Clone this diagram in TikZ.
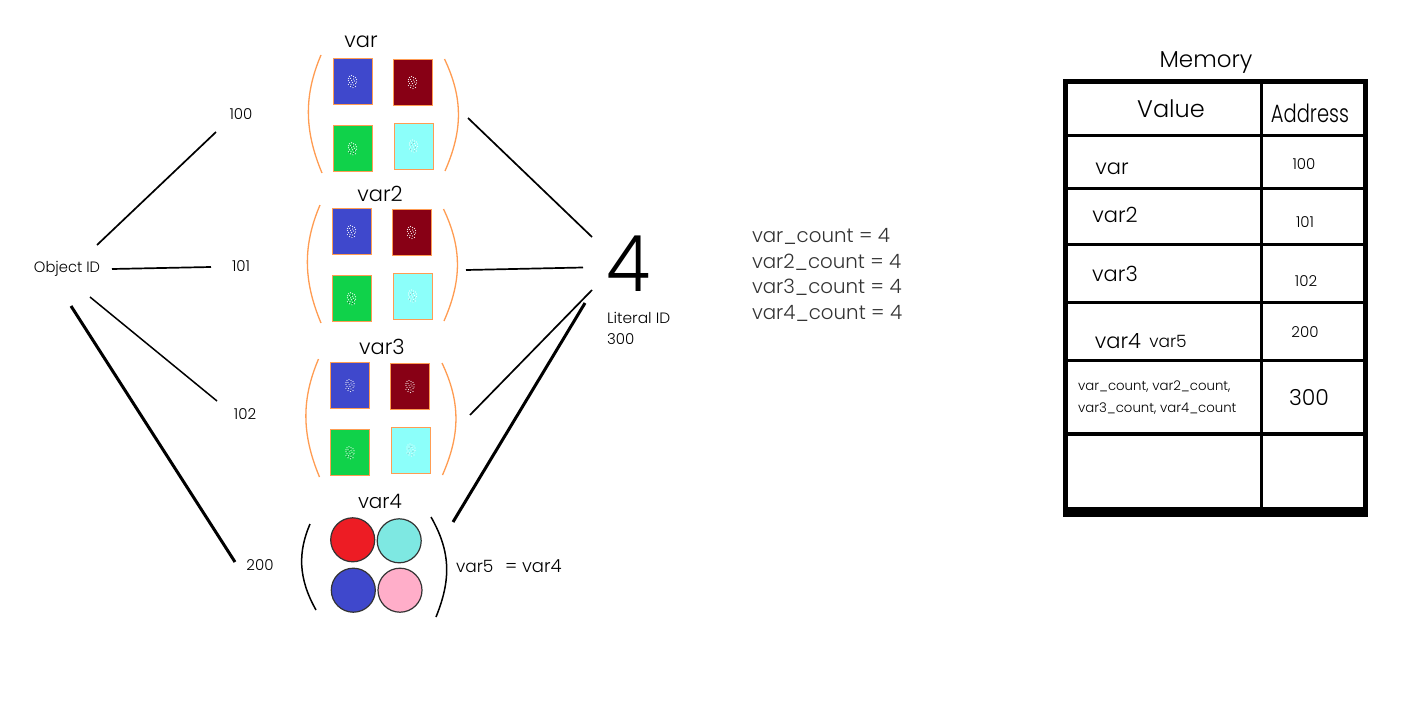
\documentclass[tikz,border=0pt]{standalone}
\usepackage{fontspec}
\usepackage{graphicx}
\setmainfont{Poppins}[UprightFont=* Light]
\definecolor{oline}{HTML}{FF9C52}
\definecolor{cblue}{HTML}{3F48CC}
\definecolor{cred}{HTML}{880015}
\definecolor{cgreen}{HTML}{10D24A}
\definecolor{ccyan}{HTML}{8CFFFA}
\definecolor{tred}{HTML}{ED1C24}
\definecolor{tteal}{HTML}{7EE8E2}
\definecolor{tpink}{HTML}{FFAEC9}
\definecolor{soft}{HTML}{333333}
\tikzset{
  x=1pt,y=-1pt,
  lbl/.style={inner sep=0pt,outer sep=0pt,text=black},
  leftlbl/.style={lbl,anchor=west},
  sqbox/.style={draw=oline,line width=1pt,minimum width=39pt,minimum height=46pt,inner sep=0pt},
  brk/.style={draw=oline,line width=1.3pt},
  blk/.style={draw=black,line width=1.5pt},
  conn/.style={draw=black,line width=1.7pt},
  connb/.style={draw=black,line width=3pt},
  disc/.style={circle,draw=soft,line width=1.2pt,minimum size=44pt,inner sep=0pt},
  tline/.style={draw=black,line width=3pt},
}
\newcommand{\fsz}[1]{\fontsize{#1}{#1}\selectfont}
\newcommand{\speck}[2]{%
  \foreach \u/\v in {-3/-5,-1/-6,1/-5,3/-4,-4/-3,-2/-3,1/-2.5,4/-2,-4/-1,-1/-1,2/-0.5,4/0.5,-3/1,0/1,3/2,-4/3,-1.5/3,1/3.5,-2/5,0.5/6,3/5}
    \fill[white,opacity=.9] ($(#1)+(\u,\v)$) circle (0.62pt);
  \foreach \u/\v in {-2/-1.5,2/1.5,-3/3.5,0/-3.5,1/5}
    \fill[#2] ($(#1)+(\u,\v)$) circle (0.6pt);
}
\newcommand{\vgroup}[3]{%
  \begin{scope}[shift={(#2,#3)}]
    \node[sqbox,fill=cblue]  (#1a) at (352.5,81.5) {};
    \node[sqbox,fill=cred]   (#1b) at (412.5,82.5) {};
    \node[sqbox,fill=cgreen] (#1c) at (352.5,148.8) {};
    \node[sqbox,fill=ccyan]  (#1d) at (413.5,146) {};
    \speck{#1a}{cblue!60!black}\speck{#1b}{cred!70!black}\speck{#1c}{cgreen!50!black}\speck{#1d}{ccyan!60!gray}
    \draw[brk] (321,55) .. controls (304,95) and (304,130) .. (322,173);
    \draw[brk] (444.5,59) .. controls (463,98) and (463,130) .. (445,171);
  \end{scope}}
\usetikzlibrary{calc}
\begin{document}
\begin{tikzpicture}
\useasboundingbox (0,0) rectangle (1416,712);
\fill[white] (0,0) rectangle (1416,712);

% variable groups
\node[lbl,font=\fsz{21}] (varT)  at (361,42) {var};
\node[lbl,font=\fsz{21}] (var2T) at (380,194) {var2};
\node[lbl,font=\fsz{21}] (var3T) at (382,347) {var3};
\node[lbl,font=\fsz{20}] (var4T) at (380,501) {var4};
\vgroup{p}{0}{0}
\vgroup{q}{-1}{150}
\vgroup{r}{-2.5}{304}

% var4 group
\node[disc,fill=tred]  (c1) at (352.7,539.8) {};
\node[disc,fill=tteal] (c2) at (399.2,540.8) {};
\node[disc,fill=cblue] (c3) at (353.3,590.2) {};
\node[disc,fill=tpink] (c4) at (400,590.2) {};
\draw[blk] (310,524) .. controls (298,552) and (298,578) .. (316,610);
\draw[blk] (431,517) .. controls (451,552) and (451,580) .. (436,617);
\node[leftlbl,font=\fsz{17}] (v5) at (456,566) {var5};
\node[leftlbl,font=\fsz{18}] (v5eq) at (505,566) {= var4};

% left labels
\node[lbl,font=\fsz{15}] (obj) at (67,268.5) {\scalebox{.98}[1]{Object ID}};
\node[lbl,font=\fsz{15}] (a100) at (241,114) {100};
\node[lbl,font=\fsz{15}] (a101) at (241,266) {101};
\node[lbl,font=\fsz{15}] (a102) at (245,414) {102};
\node[lbl,font=\fsz{15}] (a200) at (260,565.5) {200};

\coordinate (o1) at (97,245);   \coordinate (t1) at (216,132);
\coordinate (o2) at (112,269);  \coordinate (t2) at (211,267);
\coordinate (o3) at (90,297);   \coordinate (t3) at (217,401);
\coordinate (o4) at (71,306);   \coordinate (t4) at (235,562);
\draw[conn] (o1) -- (t1);
\draw[conn] (o2) -- (t2);
\draw[conn,line width=1.5pt] (o3) -- (t3);
\draw[connb] (o4) -- (t4);

% literal
\node[lbl,font=\fsz{78}] (four) at (628,264) {\scalebox{.92}[1]{4}};
\node[leftlbl,font=\fsz{15}] (lit) at (607,318) {\scalebox{1.03}[1]{Literal ID}};
\node[leftlbl,font=\fsz{15}] (lit3) at (607,339) {300};
\coordinate (g1) at (468,118);  \coordinate (f1) at (592,237);
\coordinate (g2) at (466,270);  \coordinate (f2) at (583,267.5);
\coordinate (g3) at (470,415);  \coordinate (f3) at (592,290);
\coordinate (g4) at (453,522);  \coordinate (f4) at (585,303);
\draw[conn] (g1) -- (f1);
\draw[conn] (g2) -- (f2);
\draw[conn] (g3) -- (f3);
\draw[connb] (g4) -- (f4);

% counts
\node[leftlbl,text=soft,font=\fsz{19.8}] (k1) at (752,236) {var\_count = 4};
\node[leftlbl,text=soft,font=\fsz{19.8}] (k2) at (752,262) {var2\_count = 4};
\node[leftlbl,text=soft,font=\fsz{19.8}] (k3) at (752,287) {var3\_count = 4};
\node[leftlbl,text=soft,font=\fsz{19.8}] (k4) at (752,313) {var4\_count = 4};

% memory table
\node[lbl,font=\fsz{23}] (mem) at (1206,62.5) {Memory};
\coordinate (tl) at (1065.2,81.5);
\coordinate (br) at (1365.5,511);
\draw[tline] (1066,135) -- (1364,135);
\draw[tline] (1066,188) -- (1364,188);
\draw[tline] (1066,244) -- (1364,244);
\draw[tline] (1066,302) -- (1364,302);
\draw[tline,line width=2.5pt] (1066,360.5) -- (1364,360.5);
\draw[tline,line width=4pt] (1066,434) -- (1364,434);
\draw[tline,line width=2.5pt] (1261.5,81) -- (1261.5,510);
\fill[black] (1063,79) rectangle (1368,84);
\fill[black] (1063,79) rectangle (1067.5,517);
\fill[black] (1363,79) rectangle (1368,517);
\fill[black] (1063,507) rectangle (1368,517);

\node[lbl,font=\fsz{24}] (val) at (1171,109) {Value};
\node[lbl,font=\fsz{25}] (adr) at (1310,113) {\scalebox{.78}[1]{Address}};
\node[lbl,font=\fsz{21}] (m1) at (1112,168.5) {var};
\node[lbl,font=\fsz{21}] (m2) at (1115,215) {var2};
\node[lbl,font=\fsz{21}] (m3) at (1115,274) {var3};
\node[lbl,font=\fsz{21}] (m4) at (1118,341.5) {var4};
\node[lbl,font=\fsz{17}] (m5) at (1168,341) {var5};
\node[lbl,font=\fsz{15}] (n1) at (1304,164) {100};
\node[lbl,font=\fsz{15}] (n2) at (1305,222.5) {101};
\node[lbl,font=\fsz{15}] (n3) at (1306,281) {102};
\node[lbl,font=\fsz{15}] (n4) at (1305,332) {200};
\node[lbl,font=\fsz{22}] (n5) at (1309,398) {300};
\node[leftlbl,font=\fsz{13.3}] (ml1) at (1078,387) {var\_count, var2\_count,};
\node[leftlbl,font=\fsz{13.3}] (ml2) at (1078,408.5) {var3\_count, var4\_count};
\end{tikzpicture}
\end{document}
